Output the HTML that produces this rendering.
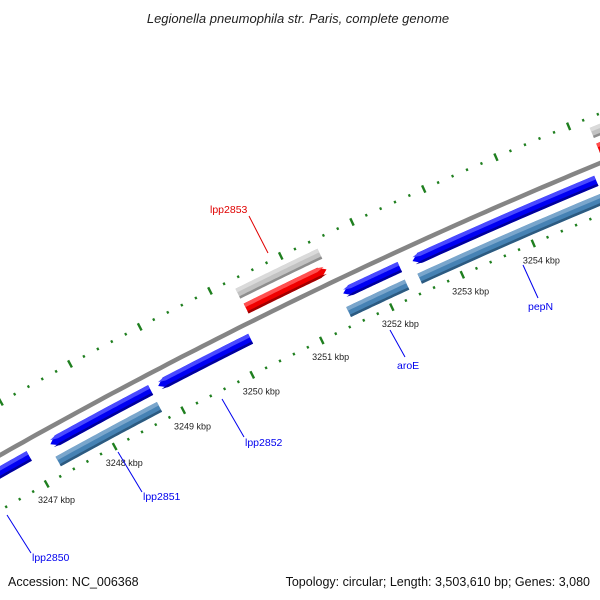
<!DOCTYPE html>
<html><head><meta charset="utf-8"><style>
html,body{margin:0;padding:0;background:#fff;}
svg{display:block;font-family:"Liberation Sans","DejaVu Sans",sans-serif;}
</style></head><body>
<svg id="map" width="600" height="600" viewBox="0 0 600 600" xmlns="http://www.w3.org/2000/svg">
<rect width="600" height="600" fill="#fff"/>
<text x="298" y="23" text-anchor="middle" font-size="13" font-style="italic" fill="#222">Legionella pneumophila str. Paris, complete genome</text>
<g id="ticks"></g>
<g id="feats"></g>
<g id="labels"></g>
<text x="8" y="586" font-size="12.5" fill="#111">Accession: NC_006368</text>
<text x="590" y="586" text-anchor="end" font-size="12.5" fill="#111">Topology: circular; Length: 3,503,610 bp; Genes: 3,080</text>
</svg>
<script>
// data
const majorTicks = [3244,3245,3246,3247,3248,3249,3250,3251,3252,3253,3254,3255,3256,3257];
const tickLabels = ["3247 kbp","3248 kbp","3249 kbp","3250 kbp","3251 kbp","3252 kbp","3253 kbp","3254 kbp"];
const tickLabelPos = [3247,3248,3249,3250,3251,3252,3253,3254];
const featStart = [3245.5, 3247.29, 3247.27, 3248.86, 3250.30, 3250.31, 3251.51, 3251.47, 3252.49, 3252.48, 3255.24, 3255.24];
const featEnd   = [3246.98, 3248.75, 3248.75, 3250.19, 3251.46, 3251.45, 3252.31, 3252.30, 3255.06, 3257.0, 3257.0, 3257.0];
const featTrack = ["rev","rev","cog","rev","misc","fwd","rev","cog","rev","cog","misc","fwd"];
const featNames = ["lpp2850","lpp2851","lpp2851-cog","lpp2852","lpp2853-cog","lpp2853","aroE","aroE-cog","pepN","pepN-cog","next-cog","next-gene"];
const geneLabels = ["lpp2853","lpp2852","lpp2851","lpp2850","aroE","pepN"];
const geneLabelColors = ["#e00000","#0000ee","#0000ee","#0000ee","#0000ee","#0000ee"];

// geometry
const CX=2660, CY=5158, R0=5403;
const K0=3248, TH0=-118.38, DEG=0.83;
function ang(k){return (TH0+(k-K0)*DEG)*Math.PI/180;}
function pt(k,r){const a=ang(k);return [CX+r*Math.cos(a), CY+r*Math.sin(a)];}
const NS="http://www.w3.org/2000/svg";
function mk(tag,attrs,parent){const e=document.createElementNS(NS,tag);for(const k in attrs)e.setAttribute(k,attrs[k]);parent.appendChild(e);return e;}
const svg=document.getElementById('map');
const tg=document.getElementById('ticks'), fg=document.getElementById('feats'), lg=document.getElementById('labels');

// backbone
(function(){
  let d='';
  for(let k=3244;k<=3258;k+=0.1){const p=pt(k,R0);d+=(d?'L':'M')+p[0].toFixed(1)+','+p[1].toFixed(1);}
  const b=mk('path',{d:d,fill:'none',stroke:'#858585','stroke-width':4.5},fg);
  
  
})();

// ticks
const rings=[5355,5449];
rings.forEach(function(r){
  for(let i=0;i<majorTicks.length;i++){
    for(let j=0;j<5;j++){
      const k=majorTicks[i]+j*0.2;
      const len=j===0?8:2.6, w=j===0?2.4:2.2;
      const a=pt(k,r-len/2), b=pt(k,r+len/2);
      const l=mk('line',{x1:a[0],y1:a[1],x2:b[0],y2:b[1],stroke:'#1f7f1f','stroke-width':w},tg);
      
      
    }
  }
});
for(let i=0;i<tickLabels.length;i++){
  const p=pt(tickLabelPos[i],5337);
  const t=mk('text',{x:p[0]+1,y:p[1]+3.5,'text-anchor':'middle','font-size':9,fill:'#222'},tg);
  t.textContent=tickLabels[i];
  
  
}

// features
const trackR={rev:5388,cog:5369,fwd:5417,misc:5434};
const trackCol={rev:['#0000f2','#4a4aff','#00009a'],cog:['#4682b4','#7aa6cc','#2c5a80'],fwd:['#f00000','#ff5050','#a00000'],misc:['#c2c2c2','#dadada','#8e8e8e']};
function band(s,e,r1,r2,tipStart,tipEnd,h){
  const pts=[];const n=30;
  const s2=tipStart?s+h:s, e2=tipEnd?e-h:e;
  for(let i=0;i<=n;i++)pts.push(pt(s2+(e2-s2)*i/n,r2));
  if(tipEnd)pts.push(pt(e,(r1+r2)/2));
  for(let i=n;i>=0;i--)pts.push(pt(s2+(e2-s2)*i/n,r1));
  if(tipStart)pts.push(pt(s,(r1+r2)/2));
  return pts.map(p=>p[0].toFixed(1)+','+p[1].toFixed(1)).join(' ');
}
for(let i=0;i<featStart.length;i++){
  const tr=featTrack[i], r=trackR[tr], c=trackCol[tr], t=11;
  const rs=tr==='rev', fw=tr==='fwd', h=0.1;
  const g=mk('g',{},fg);
  
  
  mk('polygon',{points:band(featStart[i],featEnd[i],r-t/2,r+t/2,rs,fw,h),fill:c[0]},g);
  mk('polygon',{points:band(featStart[i]+(rs?0.02:0),featEnd[i]-(fw?0.02:0),r+t/2-4,r+t/2,rs,fw,h),fill:c[1]},g);
  mk('polygon',{points:band(featStart[i]+(rs?0.02:0),featEnd[i]-(fw?0.02:0),r-t/2,r-t/2+2.5,rs,fw,h),fill:c[2]},g);
}

// gene labels (text positions and leader lines)
const lab=[[210,213,249,216,268,253],[245,446,222,399,244,437],[143,500,118,452,142,492],[32,561,7,515,31,553],[397,369,390,330,405,357],[528,310,523,265,538,298]];
for(let i=0;i<geneLabels.length;i++){
  const L=lab[i];
  const ln=mk('line',{x1:L[2],y1:L[3],x2:L[4],y2:L[5],stroke:geneLabelColors[i],'stroke-width':1},lg);
  
  
  const tx=mk('text',{x:L[0],y:L[1],'font-size':10.5,fill:geneLabelColors[i]},lg);
  tx.textContent=geneLabels[i];
  
  
}
</script>
</body></html>
